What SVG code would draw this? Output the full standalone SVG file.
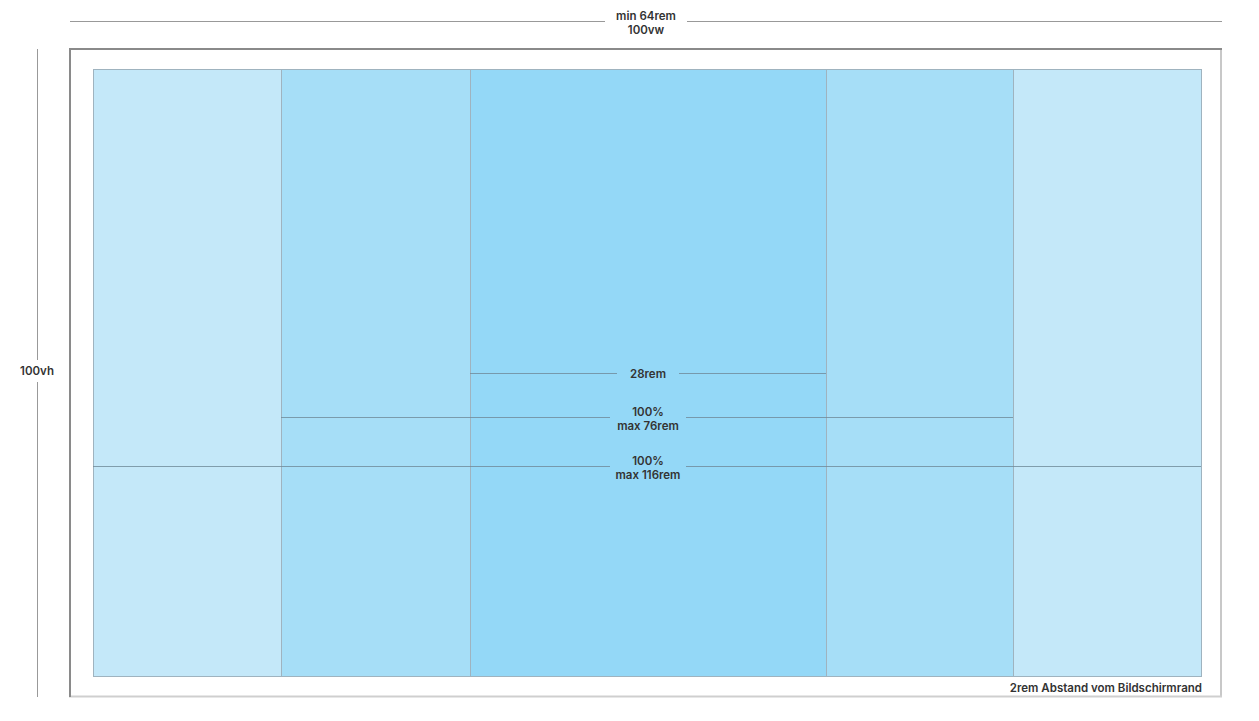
<svg xmlns="http://www.w3.org/2000/svg" width="1259" height="721" viewBox="0 0 1259 721">
<style>
.t{font-family:Inter,"Liberation Sans",sans-serif;font-weight:600;font-size:11.5px;fill:#333;text-anchor:middle}
.dim{stroke:#999;stroke-width:1}
.m{stroke:#6f8a99;stroke-width:1;stroke-opacity:0.8}
.col{stroke:#9fb3bf;stroke-width:1}
</style>
<rect width="1259" height="721" fill="#fff"/>
<g id="dim-width">
<line class="dim" x1="70" y1="21.5" x2="605" y2="21.5"/>
<line class="dim" x1="687" y1="21.5" x2="1222" y2="21.5"/>
<text class="t" x="646" y="20">min 64rem</text>
<text class="t" x="646" y="34">100vw</text>
</g>
<g id="dim-height">
<line class="dim" x1="37.5" y1="49" x2="37.5" y2="360"/>
<line class="dim" x1="37.5" y1="382" x2="37.5" y2="697"/>
<text class="t" x="37" y="375">100vh</text>
</g>
<g id="viewport">
<rect x="70" y="49" width="1151" height="647" fill="#fff"/>
<line x1="1221" y1="48" x2="1221" y2="697" stroke="#c8c8c8" stroke-width="2"/>
<line x1="69" y1="696.5" x2="1222" y2="696.5" stroke="#cfcfcf" stroke-width="2"/>
<line x1="70" y1="48" x2="70" y2="697" stroke="#8a8a8a" stroke-width="2"/>
<line x1="69" y1="49" x2="1222" y2="49" stroke="#8a8a8a" stroke-width="2"/>
<text class="t" x="1202" y="692" style="text-anchor:end">2rem Abstand vom Bildschirmrand</text>
</g>
<g id="outer">
<rect class="col" x="93.5" y="69.5" width="1108" height="607" fill="#c4e8f9"/>
</g>
<g id="middle">
<rect class="col" x="281.5" y="69.5" width="732" height="607" fill="#a6def7"/>
</g>
<g id="inner">
<rect class="col" x="470.5" y="69.5" width="356" height="607" fill="#94d8f7"/>
</g>
<g id="measures">
<line class="m" x1="470" y1="373.5" x2="617" y2="373.5"/>
<line class="m" x1="679" y1="373.5" x2="826" y2="373.5"/>
<text class="t" x="648" y="378">28rem</text>
<line class="m" x1="281" y1="417.5" x2="610" y2="417.5"/>
<line class="m" x1="686" y1="417.5" x2="1013" y2="417.5"/>
<text class="t" x="648" y="416">100%</text>
<text class="t" x="648" y="430">max 76rem</text>
<line class="m" x1="93" y1="466.5" x2="610" y2="466.5"/>
<line class="m" x1="686" y1="466.5" x2="1201" y2="466.5"/>
<text class="t" x="648" y="465">100%</text>
<text class="t" x="648" y="479">max 116rem</text>
</g>
</svg>
